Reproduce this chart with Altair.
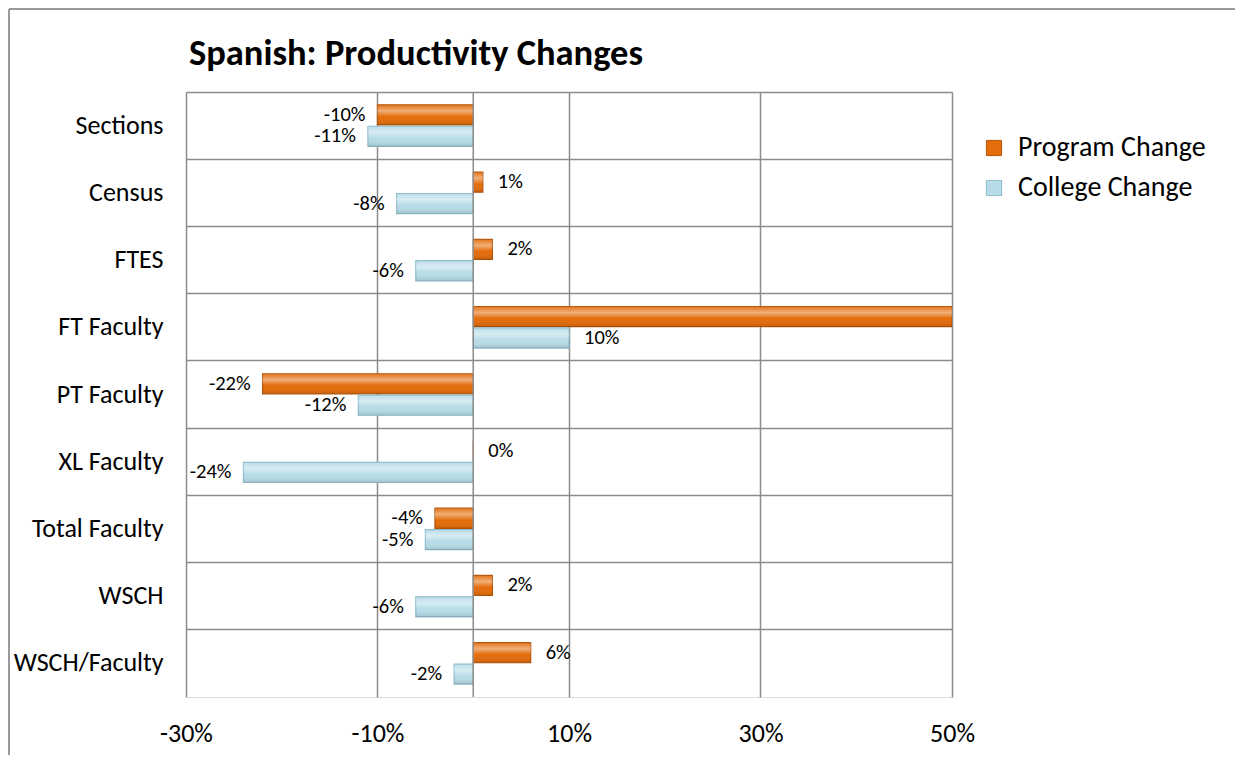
import altair as alt
import pandas as pd

categories = ["Sections", "Census", "FTES", "FT Faculty", "PT Faculty",
              "XL Faculty", "Total Faculty", "WSCH", "WSCH/Faculty"]
program_change = [-0.10, 0.01, 0.02, 0.50, -0.22, 0.00, -0.04, 0.02, 0.06]
college_change = [-0.11, -0.08, -0.06, 0.10, -0.12, -0.24, -0.05, -0.06, -0.02]
series = ["Program Change", "College Change"]
series_colors = ["#E46C0A", "#B7DCE8"]
series_strokes = ["#B5560A", "#8DBBCB"]
x_ticks = [-0.3, -0.1, 0.1, 0.3, 0.5]
chart_title = "Spanish: Productivity Changes"

FONT = "Carlito, Calibri, Lato, sans-serif"
GRID = "#8c8c8c"

rows = []
for i, c in enumerate(categories):
    rows.append({"category": c, "series": series[0], "value": program_change[i]})
    rows.append({"category": c, "series": series[1], "value": college_change[i]})
df = pd.DataFrame(rows)

x_scale = alt.Scale(domain=[-0.3, 0.5], nice=False, zero=False)
y_scale = alt.Scale(domain=categories, paddingInner=0, paddingOuter=0)
yoff_scale = alt.Scale(domain=series, paddingInner=0.06, paddingOuter=0.6)

base = alt.Chart(df).transform_calculate(
    lbl="replace(format(datum.value, '.0%'), '\u2212', '-')"
)

x_enc = alt.X("value:Q", scale=x_scale,
              axis=alt.Axis(values=x_ticks, format=".0%", title=None, grid=True,
                            domain=False, ticks=False, labelFontSize=26,
                            labelPadding=23, labelColor="#000", labelFont=FONT,
                            labelFlush=False,
                            labelExpr="replace(datum.label, '\u2212', '-')",
                            gridColor=GRID, gridWidth=1.5))
y_enc = alt.Y("category:N", scale=y_scale, sort=categories,
              axis=alt.Axis(title=None, grid=True, bandPosition=0, domain=False,
                            ticks=False, labelFontSize=26, labelPadding=23,
                            labelColor="#000", labelFont=FONT, labelLimit=300,
                            gridColor=GRID, gridWidth=1.5))
yoff_enc = alt.YOffset("series:N", scale=yoff_scale, sort=series)

bars = base.mark_bar(clip=True, strokeWidth=1.2).encode(
    x=x_enc,
    y=y_enc,
    yOffset=yoff_enc,
    fill=alt.Fill("series:N", sort=series,
                  scale=alt.Scale(domain=series, range=series_colors),
                  legend=alt.Legend(title=None, orient="none", legendX=794,
                                    legendY=42, symbolType="square",
                                    symbolSize=230, symbolStrokeWidth=1,
                                    labelFontSize=28, labelFont=FONT,
                                    labelColor="#000", rowPadding=12,
                                    labelOffset=10, labelLimit=400)),
    stroke=alt.Stroke("series:N", sort=series,
                      scale=alt.Scale(domain=series, range=series_strokes),
                      legend=None),
)

shine = base.mark_bar(
    clip=True,
    fill=alt.LinearGradient(
        gradient="linear", x1=0, x2=0, y1=0, y2=1,
        stops=[alt.GradientStop(color="rgba(255,255,255,0.05)", offset=0),
               alt.GradientStop(color="rgba(255,255,255,0.45)", offset=0.3),
               alt.GradientStop(color="rgba(255,255,255,0.0)", offset=0.6),
               alt.GradientStop(color="rgba(0,0,0,0.12)", offset=1)]),
).encode(x=alt.X("value:Q", scale=x_scale), y=alt.Y("category:N", scale=y_scale, sort=categories),
         yOffset=yoff_enc)

zero_rule = alt.Chart(pd.DataFrame({"z": [0.0]})).mark_rule(
    color=GRID, strokeWidth=1.5).encode(x=alt.X("z:Q", scale=x_scale))

text_common = dict(
    x=alt.X("value:Q", scale=x_scale),
    y=alt.Y("category:N", scale=y_scale, sort=categories),
    yOffset=yoff_enc,
    text=alt.Text("lbl:N"),
)

neg_labels = base.transform_filter("datum.value < 0").mark_text(
    align="right", baseline="middle", dx=-12, fontSize=20.5, font=FONT,
    color="#000").encode(**text_common)
pos_labels = base.transform_filter("datum.value >= 0 && datum.value < 0.5").mark_text(
    align="left", baseline="middle", dx=15, fontSize=20.5, font=FONT,
    color="#000").encode(**text_common)

border_top = alt.Chart(pd.DataFrame({"k": [0]})).mark_rule(
    color="#9a9a9a", strokeWidth=2).encode(
    x=alt.value(-177), x2=alt.value(1100), y=alt.value(-83))
border_left = alt.Chart(pd.DataFrame({"k": [0]})).mark_rule(
    color="#9a9a9a", strokeWidth=2).encode(
    x=alt.value(-177), y=alt.value(-83), y2=alt.value(700))

chart = alt.layer(bars, shine, zero_rule, neg_labels, pos_labels,
                  border_top, border_left).properties(
    width=766,
    height=605,
    title=alt.TitleParams(chart_title, anchor="start", frame="group", fontSize=36.5,
                          fontWeight="bold", font=FONT, color="#000",
                          offset=20, dy=84, dx=3),
    autosize=alt.AutoSizeParams(type="none"),
    padding={"left": 178, "top": 84, "right": 283, "bottom": 58},
).configure_view(stroke=GRID, strokeWidth=1.5).configure(background="white")

chart.save("out.html", embed_options={"renderer": "svg", "actions": False})
